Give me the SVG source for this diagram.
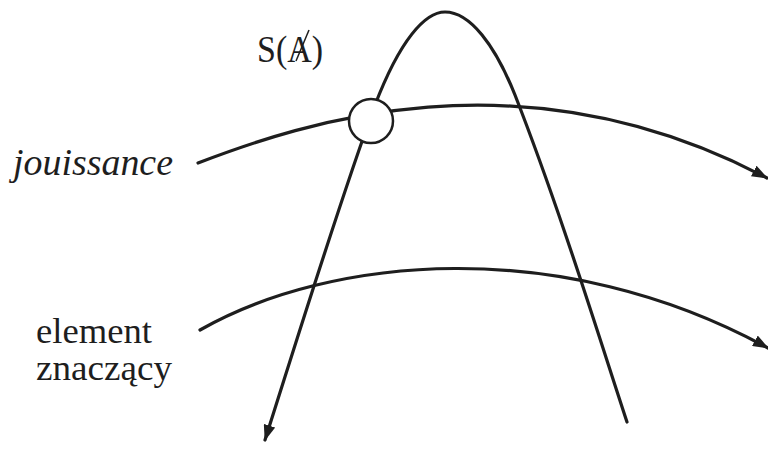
<svg xmlns="http://www.w3.org/2000/svg" width="768" height="470" viewBox="0 0 768 470">
  <style>
    .line { fill: none; stroke: #1e1e1e; stroke-width: 3.2; stroke-linecap: round; }
    .lbl { font-family: "Liberation Serif", "Times New Roman", serif; font-size: 38px; fill: #1e1e1e; }
    .sm { font-size: 36px; }
    .it { font-style: italic; }
  </style>
  <defs>
    <marker id="arr" viewBox="0 0 16 12" refX="15" refY="6" markerWidth="16" markerHeight="12" markerUnits="userSpaceOnUse" orient="auto">
      <path d="M0,0 L16,6 L0,12 z" fill="#1e1e1e"/>
    </marker>
  </defs>
  <rect width="768" height="470" fill="#ffffff"/>
  <g id="connectors">
    <path id="arch" class="line" d="M627,422 C600,340 560,210 515,95 C495,45 470,12 445,12 C425,12 400,40 375,105 C340,200 300,330 265,440" marker-end="url(#arr)"/>
    <path id="upper" class="line" d="M198,163 C300,124 520,48 767,178" marker-end="url(#arr)"/>
    <path id="lower" class="line" d="M200,330 C330,256 560,234 768,348" marker-end="url(#arr)"/>
  </g>
  <g id="node-circle">
    <circle cx="371" cy="121" r="22" fill="#ffffff" stroke="#1e1e1e" stroke-width="2.5"/>
  </g>
  <g id="node-SA">
    <text class="lbl" x="257" y="62" textLength="66" lengthAdjust="spacingAndGlyphs">S(A)</text>
    <line x1="309" y1="30" x2="296" y2="61" stroke="#1e1e1e" stroke-width="1.5"/>
  </g>
  <g id="node-jouissance">
    <text class="lbl it" x="13" y="175" textLength="160" lengthAdjust="spacingAndGlyphs">jouissance</text>
  </g>
  <g id="node-element">
    <text class="lbl sm" x="36" y="343" textLength="116" lengthAdjust="spacingAndGlyphs">element</text>
    <text class="lbl sm" x="36" y="380" textLength="136" lengthAdjust="spacingAndGlyphs">znaczący</text>
  </g>
</svg>
